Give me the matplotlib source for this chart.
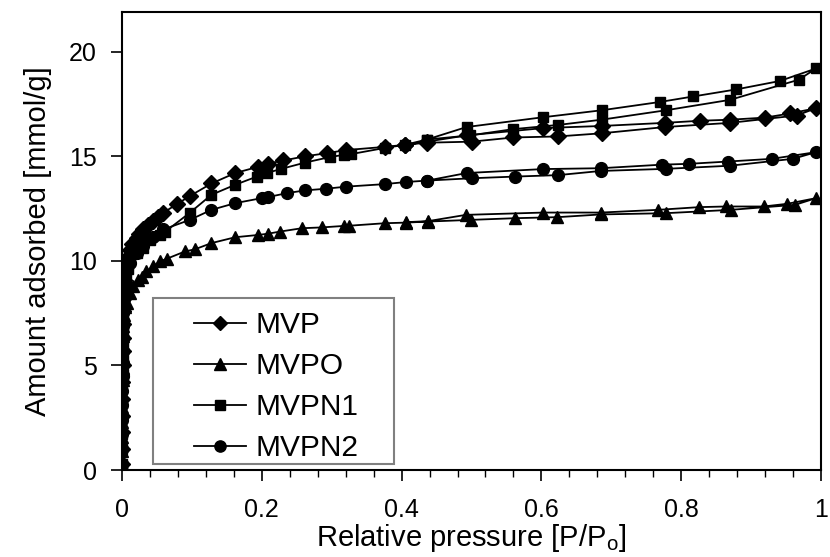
import matplotlib
matplotlib.use("Agg")
import matplotlib.pyplot as plt
from matplotlib.ticker import MultipleLocator
from matplotlib.patches import Rectangle

plt.rcParams['font.family'] = ['Liberation Sans', 'DejaVu Sans']

# MVP (adsorption then desorption)
mvp_x = [0.0002, 0.0003, 0.0004, 0.0005, 0.0006, 0.0007, 0.0008, 0.0009, 0.001, 0.0012,
         0.0015, 0.002, 0.0025, 0.003, 0.004, 0.006, 0.008, 0.011, 0.015, 0.021,
         0.025, 0.03, 0.037, 0.045, 0.052, 0.059, 0.078, 0.097, 0.128, 0.162,
         0.195, 0.209, 0.231, 0.262, 0.293, 0.321, 0.376, 0.405, 0.436, 0.5,
         0.56, 0.624, 0.686, 0.777, 0.87, 0.965, 0.993,
         0.956, 0.92, 0.87, 0.827, 0.777, 0.686, 0.603, 0.493, 0.436, 0.405]
mvp_y = [0.3, 1.0, 1.8, 2.6, 3.4, 4.2, 5.0, 5.7, 6.3, 7.0,
         7.6, 8.2, 8.7, 9.1, 9.5, 9.9, 10.2, 10.5, 10.8, 11.1,
         11.3, 11.5, 11.7, 11.9, 12.1, 12.3, 12.7, 13.1, 13.7, 14.2,
         14.5, 14.65, 14.8, 15.0, 15.15, 15.3, 15.45, 15.55, 15.65, 15.7,
         15.9, 15.95, 16.1, 16.4, 16.6, 16.95, 17.3,
         17.05, 16.85, 16.75, 16.7, 16.6, 16.45, 16.35, 16.0, 15.7, 15.55]

# MVPO
mvpo_x = [0.0002, 0.0003, 0.0004, 0.0005, 0.0006, 0.0007, 0.0008, 0.0009, 0.001, 0.0012,
          0.0015, 0.002, 0.003, 0.005, 0.007, 0.011, 0.016, 0.023, 0.028, 0.035,
          0.045, 0.054, 0.064, 0.09, 0.104, 0.128, 0.162, 0.195, 0.209, 0.226,
          0.257, 0.286, 0.317, 0.325, 0.376, 0.407, 0.438, 0.499, 0.562, 0.623,
          0.685, 0.778, 0.871, 0.963, 0.993,
          0.952, 0.918, 0.864, 0.826, 0.767, 0.685, 0.603, 0.492, 0.438, 0.407]
mvpo_y = [0.3, 0.9, 1.6, 2.3, 3.0, 3.7, 4.3, 4.9, 5.4, 5.9,
          6.4, 6.9, 7.4, 7.8, 8.0, 8.45, 8.8, 9.1, 9.25, 9.5,
          9.75, 9.97, 10.1, 10.45, 10.55, 10.85, 11.13, 11.24, 11.3, 11.4,
          11.56, 11.6, 11.67, 11.68, 11.8, 11.83, 11.88, 11.96, 12.04, 12.09,
          12.22, 12.28, 12.44, 12.68, 13.0,
          12.73, 12.6, 12.6, 12.57, 12.44, 12.31, 12.31, 12.2, 11.9, 11.85]

# MVPN1
mvpn1_x = [0.0002, 0.0003, 0.0004, 0.0005, 0.0006, 0.0007, 0.0008, 0.0009, 0.001, 0.0012,
           0.0015, 0.002, 0.003, 0.004, 0.006, 0.008, 0.011, 0.021, 0.03, 0.04,
           0.054, 0.062, 0.097, 0.128, 0.162, 0.193, 0.207, 0.228, 0.262, 0.297,
           0.317, 0.327, 0.376, 0.405, 0.436, 0.498, 0.56, 0.624, 0.686, 0.778,
           0.87, 0.968, 0.993,
           0.941, 0.879, 0.817, 0.77, 0.686, 0.603, 0.493, 0.436]
mvpn1_y = [0.3, 1.0, 1.7, 2.5, 3.2, 3.9, 4.6, 5.3, 5.9, 6.5,
           7.1, 7.7, 8.3, 8.8, 9.2, 9.6, 9.97, 10.37, 10.6, 11.0,
           11.24, 11.4, 12.3, 13.16, 13.64, 14.03, 14.2, 14.4, 14.7, 14.96,
           15.07, 15.1, 15.4, 15.55, 15.8, 16.0, 16.3, 16.5, 16.75, 17.2,
           17.7, 18.66, 19.2,
           18.6, 18.2, 17.86, 17.6, 17.2, 16.87, 16.4, 15.8]

# MVPN2
mvpn2_x = [0.0002, 0.0003, 0.0004, 0.0005, 0.0006, 0.0007, 0.0008, 0.0009, 0.001, 0.0012,
           0.0015, 0.002, 0.003, 0.004, 0.007, 0.011, 0.021, 0.03, 0.045, 0.059,
           0.097, 0.128, 0.162, 0.2, 0.209, 0.236, 0.262, 0.292, 0.321, 0.376,
           0.406, 0.437, 0.5, 0.562, 0.624, 0.685, 0.778, 0.87, 0.96, 0.993,
           0.93, 0.867, 0.811, 0.772, 0.685, 0.603, 0.493, 0.437]
mvpn2_y = [0.3, 1.0, 1.7, 2.4, 3.1, 3.8, 4.5, 5.1, 5.7, 6.3,
           6.9, 7.5, 8.2, 9.0, 9.6, 9.9, 10.37, 10.7, 11.16, 11.5,
           11.96, 12.44, 12.76, 13.0, 13.05, 13.24, 13.37, 13.45, 13.55, 13.67,
           13.77, 13.84, 13.95, 14.03, 14.1, 14.3, 14.4, 14.55, 14.88, 15.2,
           14.88, 14.75, 14.64, 14.6, 14.43, 14.39, 14.2, 13.84]

series = [("MVP", mvp_x, mvp_y, "D", 8.0),
          ("MVPO", mvpo_x, mvpo_y, "^", 9.0),
          ("MVPN1", mvpn1_x, mvpn1_y, "s", 7.8),
          ("MVPN2", mvpn2_x, mvpn2_y, "o", 8.5)]

x_ticks = [0, 0.2, 0.4, 0.6, 0.8, 1.0]
x_ticklabels = ["0", "0.2", "0.4", "0.6", "0.8", "1"]
y_ticks = [0, 5, 10, 15, 20]
y_ticklabels = ["0", "5", "10", "15", "20"]

W, H = 830, 557
fig = plt.figure(figsize=(W / 100, H / 100), dpi=100)
L, R, T, B = 122, 821, 12, 470
ax = fig.add_axes([L / W, 1 - B / H, (R - L) / W, (B - T) / H])

for name, xs, ys, mk, ms in series:
    ax.plot(xs, ys, color="black", lw=1.3, marker=mk, ms=ms,
            mfc="black", mec="black", label=name)

ax.set_xlim(0, 1)
ax.set_ylim(0, 21.9)
ax.xaxis.set_minor_locator(MultipleLocator(0.04))
ax.set_xticks(x_ticks)
ax.set_xticklabels(x_ticklabels)
ax.set_yticks(y_ticks)
ax.set_yticklabels(y_ticklabels)
ax.tick_params(axis="both", which="major", direction="out", length=8, width=1.2,
               labelsize=18)
ax.tick_params(axis="x", which="major", pad=12)
ax.tick_params(axis="y", which="major", pad=10)
ax.tick_params(axis="x", which="minor", direction="out", length=5, width=1.0)
for s in ax.spines.values():
    s.set_linewidth(1.5)
    s.set_color("black")

ax.set_xlabel("Relative pressure [P/P$_{\\mathregular{o}}$]", fontsize=21, labelpad=0)
ax.set_ylabel("Amount adsorbed [mmol/g]", fontsize=21, labelpad=12)

# legend box (frame drawn separately to match the reference's padding)
def px_to_ax(px, py):
    return (px - L) / (R - L), (B - py) / (B - T)

bx0, by0 = px_to_ax(153, 464)
bx1, by1 = px_to_ax(394, 298)
ax.add_patch(Rectangle((bx0, by0), bx1 - bx0, by1 - by0, transform=ax.transAxes,
                       facecolor="white", edgecolor="#808080", lw=1.5, zorder=5))

hx, hy = px_to_ax(194, 462)
leg = ax.legend(loc="lower left", bbox_to_anchor=(hx, hy), fontsize=21.5,
                frameon=False, handlelength=1.75, markerscale=0.95, borderpad=0,
                labelspacing=0.43, handletextpad=0.3, borderaxespad=0)
leg.set_zorder(6)

fig.savefig("out.png", dpi=100)
